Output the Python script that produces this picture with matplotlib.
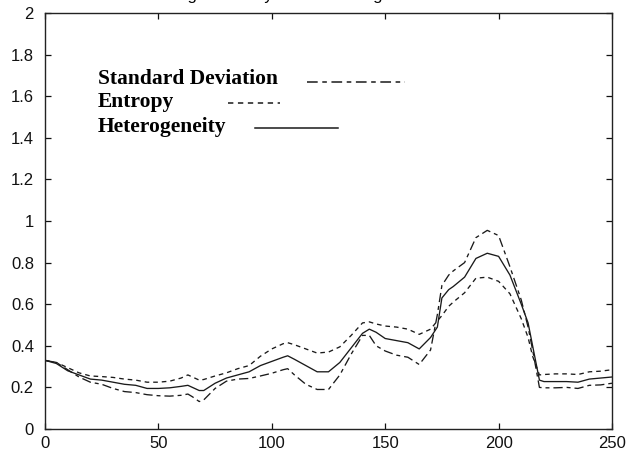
import matplotlib
matplotlib.use("Agg")
import matplotlib.pyplot as plt

x = [0, 5, 10, 15, 20, 25, 30, 35, 40, 45, 50, 55, 60, 63, 65, 68, 70, 75, 80, 85,
     90, 95, 100, 105, 107, 110, 115, 120, 125, 130, 135, 140, 143, 146, 150, 155,
     160, 165, 170, 173, 175, 178, 180, 185, 190, 195, 200, 205, 210, 213, 215, 218,
     220, 225, 230, 235, 240, 245, 250]

heterogeneity = [0.33, 0.315, 0.28, 0.26, 0.24, 0.235, 0.225, 0.215, 0.21, 0.195, 0.195,
                 0.198, 0.205, 0.21, 0.2, 0.185, 0.185, 0.22, 0.245, 0.26, 0.275, 0.305,
                 0.325, 0.345, 0.352, 0.335, 0.305, 0.275, 0.275, 0.32, 0.39, 0.46, 0.48,
                 0.465, 0.435, 0.425, 0.415, 0.385, 0.44, 0.49, 0.63, 0.67, 0.685, 0.73,
                 0.82, 0.845, 0.83, 0.74, 0.6, 0.51, 0.40, 0.235, 0.228, 0.228, 0.228,
                 0.225, 0.24, 0.245, 0.25]

entropy = [0.33, 0.32, 0.295, 0.27, 0.255, 0.252, 0.248, 0.24, 0.235, 0.225, 0.225, 0.23,
           0.245, 0.26, 0.25, 0.235, 0.238, 0.255, 0.27, 0.29, 0.305, 0.35, 0.385, 0.41,
           0.415, 0.405, 0.385, 0.365, 0.37, 0.395, 0.45, 0.51, 0.515, 0.505, 0.495, 0.49,
           0.48, 0.455, 0.48, 0.52, 0.545, 0.59, 0.61, 0.655, 0.725, 0.73, 0.71, 0.65,
           0.53, 0.44, 0.35, 0.26, 0.262, 0.265, 0.265, 0.262, 0.275, 0.278, 0.285]

std_dev = [0.33, 0.32, 0.285, 0.25, 0.225, 0.215, 0.195, 0.18, 0.175, 0.165, 0.16, 0.158,
           0.162, 0.168, 0.155, 0.132, 0.14, 0.195, 0.23, 0.24, 0.243, 0.255, 0.268, 0.285,
           0.29, 0.26, 0.215, 0.19, 0.19, 0.26, 0.36, 0.45, 0.45, 0.40, 0.375, 0.355, 0.345,
           0.31, 0.38, 0.55, 0.69, 0.74, 0.76, 0.8, 0.92, 0.955, 0.93, 0.78, 0.62, 0.49,
           0.38, 0.2, 0.198, 0.198, 0.2, 0.195, 0.21, 0.212, 0.22]

xticks = [0, 50, 100, 150, 200, 250]
yticks = [0, 0.2, 0.4, 0.6, 0.8, 1, 1.2, 1.4, 1.6, 1.8, 2]
ytick_labels = ["0", "0.2", "0.4", "0.6", "0.8", "1", "1.2", "1.4", "1.6", "1.8", "2"]
legend_labels = ["Standard Deviation", "Entropy", "Heterogeneity"]
title = "Average Intensity of all the Image Rows"

plt.rcParams['font.family'] = ['Liberation Sans', 'DejaVu Sans']

fig = plt.figure(figsize=(6.33, 4.53), dpi=100)
ax = fig.add_axes([45 / 633, 1 - 429 / 453, 567 / 633, 416 / 453])

lc = '#1a1a1a'
lw = 0.95
sd_dash = (7, 3, 3, 3)
en_dash = (3.5, 3)

ax.plot(x, std_dev, color=lc, lw=lw, dashes=sd_dash)
ax.plot(x, entropy, color=lc, lw=lw, dashes=en_dash)
ax.plot(x, heterogeneity, color=lc, lw=lw, linestyle='-')

ax.set_xlim(0, 250)
ax.set_ylim(0, 2)
ax.set_xticks(xticks)
ax.set_yticks(yticks)
ax.set_yticklabels(ytick_labels)
ax.tick_params(axis='both', direction='in', length=4, width=0.9, top=True, right=True,
               labelsize=12, colors='#111111')
ax.tick_params(axis='y', pad=8)
ax.tick_params(axis='x', pad=5)
for s in ax.spines.values():
    s.set_color('#222222')
    s.set_linewidth(1.0)

# hand-drawn legend like the reference
serif = ['Liberation Serif', 'DejaVu Serif']
text_y = [0.8286, 0.7733, 0.7147]
line_y = [0.834, 0.783, 0.723]
line_x = [(0.462, 0.635), (0.3228, 0.4145), (0.370, 0.517)]
styles = [dict(dashes=sd_dash), dict(dashes=en_dash), dict(linestyle='-')]
for lab, ty, ly, (x0, x1), st in zip(legend_labels, text_y, line_y, line_x, styles):
    ax.text(0.0935, ty, lab, transform=ax.transAxes, fontsize=15.5, fontweight='bold',
            family=serif, va='baseline', ha='left', color='black')
    ax.plot([x0, x1], [ly, ly], transform=ax.transAxes, color=lc, lw=1.1, **st)

# title clipped at the very top of the figure, as in the reference
fig.text(0.46, 1.001, title, fontsize=12, ha='center', va='baseline', color='black')

fig.savefig('out.png', dpi=100)
